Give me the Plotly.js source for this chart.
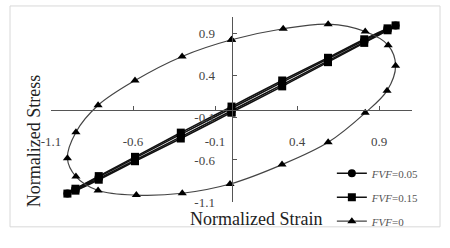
<!DOCTYPE html>
<html>
<head>
<meta charset="utf-8">
<script src="https://cdn.plot.ly/plotly-3.0.1.min.js"></script>
<style>
html,body{margin:0;padding:0;background:#fff;}
#chart{width:450px;height:248px;}
</style>
</head>
<body>
<div id="chart"></div>
<script>
// Shared strain samples for the two near-linear loops
var strainLinear = [0, 0.309, 0.588, 0.809, 0.951, 1.0, 0.951, 0.809, 0.588, 0.309, 0, -0.309, -0.588, -0.809, -0.951, -1.0, -0.951, -0.809, -0.588, -0.309, 0];
var stressFVF005 = [-0.015, 0.295, 0.578, 0.802, 0.947, 1.0, 0.958, 0.822, 0.602, 0.325, 0.015, -0.295, -0.578, -0.802, -0.947, -1.0, -0.958, -0.822, -0.602, -0.325, -0.015];
var stressFVF015 = [-0.035, 0.275, 0.563, 0.792, 0.942, 1.0, 0.965, 0.835, 0.615, 0.345, 0.035, -0.275, -0.563, -0.792, -0.942, -1.0, -0.965, -0.835, -0.615, -0.345, -0.035];
// FVF=0 ellipse
var strainFVF0 = [0, 0.315, 0.589, 0.815, 0.955, 1.0, 0.948, 0.815, 0.589, 0.308, -0.009, -0.30, -0.58, -0.813, -0.948, -1.0, -0.948, -0.813, -0.588, -0.301, 0];
var stressFVF0 = [0.829, 0.96, 1.015, 0.927, 0.763, 0.52, 0.224, -0.04, -0.39, -0.655, -0.886, -0.996, -1.018, -0.963, -0.798, -0.58, -0.27, 0.05, 0.345, 0.631, 0.829];
var seriesNames = ['<i>FVF</i>=0.05', '<i>FVF</i>=0.15', '<i>FVF</i>=0'];
var tickVals = [-1.1, -0.6, -0.1, 0.4, 0.9];
var tickText = ['-1.1', '-0.6', '-0.1', '0.4', '0.9'];
var xTitle = 'Normalized Strain';
var yTitle = 'Normalized Stress';

var serif = 'Liberation Serif, Times New Roman, serif';

var traces = [
  {x: strainLinear, y: stressFVF005, name: seriesNames[0], mode: 'lines+markers', legendgroup: 'a',
   line: {color: '#111', width: 1.5, shape: 'spline'}, marker: {symbol: 'circle', size: 8, color: '#000'}},
  {x: strainLinear, y: stressFVF015, name: seriesNames[1], mode: 'lines+markers', legendgroup: 'b',
   line: {color: '#111', width: 1.5, shape: 'spline'}, marker: {symbol: 'square', size: 8, color: '#000'}},
  {x: strainFVF0, y: stressFVF0, name: seriesNames[2], mode: 'lines+markers', legendgroup: 'c',
   line: {color: '#444', width: 1.2, shape: 'spline', smoothing: 1}, marker: {symbol: 'triangle-up', size: 8, color: '#000'}}
];

var axisCommon = {
  range: [-1.1, 1.1], tickmode: 'array', tickvals: tickVals, ticktext: tickText,
  showgrid: false, zeroline: false, showline: true, linecolor: '#555', linewidth: 1.5,
  ticks: 'inside', ticklen: 4, tickwidth: 1, tickcolor: '#555',
  tickfont: {family: serif, size: 13, color: '#444'},
  anchor: 'free', position: 0.5, fixedrange: true
};

var layout = {
  width: 450, height: 248,
  margin: {l: 51, r: 38, t: 17, b: 30},
  paper_bgcolor: '#fff', plot_bgcolor: '#fff',
  showlegend: true,
  xaxis: Object.assign({}, axisCommon, {ticklabelstandoff: 19}),
  yaxis: Object.assign({}, axisCommon, {ticklabelstandoff: 14}),
  legend: {x: 0.778, y: 0.234, xanchor: 'left', yanchor: 'top', bgcolor: 'rgba(0,0,0,0)',
    font: {family: serif, size: 11, color: '#555'}, traceorder: 'grouped', tracegroupgap: 5},
  annotations: [
    {text: xTitle, xref: 'paper', yref: 'paper', x: (256 - 51) / 361, y: (218 - 237) / 201,
     showarrow: false, xanchor: 'center', yanchor: 'middle', font: {family: serif, size: 18, color: '#222'}},
    {text: yTitle, xref: 'paper', yref: 'paper', x: (34 - 51) / 361, y: (218 - 152) / 201, textangle: -90,
     showarrow: false, xanchor: 'center', yanchor: 'middle', font: {family: serif, size: 18, color: '#222'}}
  ],
  shapes: [
    {type: 'rect', xref: 'paper', yref: 'paper', x0: (10 - 51) / 361, x1: (440 - 51) / 361,
     y0: (218 - 245) / 201, y1: (218 - 5) / 201, line: {color: '#d8d8d8', width: 1}, layer: 'below'}
  ]
};

Plotly.newPlot('chart', traces, layout, {displayModeBar: false, staticPlot: true});
</script>
</body>
</html>
